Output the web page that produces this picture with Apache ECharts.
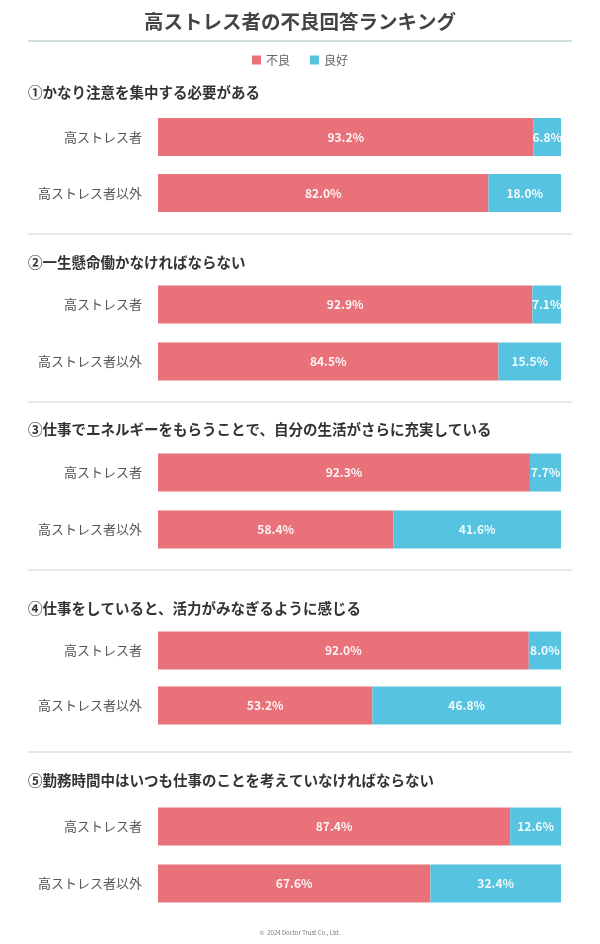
<!DOCTYPE html>
<html><head><meta charset="utf-8">
<script src="https://cdn.jsdelivr.net/npm/echarts@6/dist/echarts.min.js"></script>
<style>html,body{margin:0;padding:0;background:#fff}#c{width:600px;height:944px}</style>
</head><body><div id="c"></div>
<script>
const categories = ['高ストレス者', '高ストレス者以外'];
const questions = [
  '①かなり注意を集中する必要がある',
  '②一生懸命働かなければならない',
  '③仕事でエネルギーをもらうことで、自分の生活がさらに充実している',
  '④仕事をしていると、活力がみなぎるように感じる',
  '⑤勤務時間中はいつも仕事のことを考えていなければならない'
];
const badValues = [[93.2, 82.0], [92.9, 84.5], [92.3, 58.4], [92.0, 53.2], [87.4, 67.6]];
const goodValues = [[6.8, 18.0], [7.1, 15.5], [7.7, 41.6], [8.0, 46.8], [12.6, 32.4]];
const seriesNames = ['不良', '良好'];

const FONT = '"Noto Sans CJK JP", "Noto Sans", sans-serif';
const RED = '#E8717A', BLUE = '#56C3E0';
const gridTops = [109, 276, 444, 623, 798];
const gridHeights = [112, 114, 114, 110, 114];
const headTops = [80, 250, 417, 596, 768];
const sepYs = [234, 402, 570, 752];

const chart = echarts.init(document.getElementById('c'), null, {renderer: 'canvas'});
const grids = [], xAxes = [], yAxes = [], series = [], titles = [];
titles.push({text: '高ストレス者の不良回答ランキング', left: 'center', top: 7,
  textStyle: {fontFamily: FONT, fontSize: 19.5, fontWeight: 'bold', color: '#444'}});
questions.forEach((q, i) => {
  titles.push({text: q, left: 23, top: headTops[i],
    textStyle: {fontFamily: FONT, fontSize: 14.5, fontWeight: 'bold', color: '#333'}});
  grids.push({left: 158, right: 39, top: gridTops[i], height: gridHeights[i]});
  xAxes.push({type: 'value', gridIndex: i, min: 0, max: 100, show: false});
  yAxes.push({type: 'category', gridIndex: i, data: categories, inverse: true,
    axisLine: {show: false}, axisTick: {show: false}, splitLine: {show: false},
    axisLabel: {fontFamily: FONT, fontSize: 13, color: '#555', margin: 16}});
  const lbl = {show: true, position: 'inside', color: 'rgba(255,255,255,0.92)', fontFamily: FONT,
    fontSize: 12, fontWeight: 'bold', formatter: p => p.value.toFixed(1) + '%'};
  series.push({name: seriesNames[0], type: 'bar', stack: 's' + i, xAxisIndex: i, yAxisIndex: i,
    data: badValues[i], barWidth: 38, itemStyle: {color: RED}, label: lbl, silent: true});
  series.push({name: seriesNames[1], type: 'bar', stack: 's' + i, xAxisIndex: i, yAxisIndex: i,
    data: goodValues[i], barWidth: 38, itemStyle: {color: BLUE}, label: lbl, silent: true});
});
const graphics = [{type: 'line', shape: {x1: 28, y1: 41, x2: 572, y2: 41},
  style: {stroke: '#cfe0d2', lineWidth: 2}}];
sepYs.forEach(y => graphics.push({type: 'line', shape: {x1: 28, y1: y, x2: 572, y2: y},
  style: {stroke: '#e2e2e2', lineWidth: 1.5}}));
graphics.push({type: 'text', left: 'center', top: 930,
  style: {text: '©  2024 Doctor Trust Co., Ltd.', font: '6px ' + FONT, fill: '#777'}});

chart.setOption({
  animation: false,
  title: titles,
  legend: {data: seriesNames, top: 49, left: 'center', icon: 'rect', itemWidth: 9, itemHeight: 9,
    itemGap: 20, textStyle: {fontFamily: FONT, fontSize: 12, color: '#666'}},
  grid: grids, xAxis: xAxes, yAxis: yAxes, series: series, graphic: graphics
});
</script></body></html>
